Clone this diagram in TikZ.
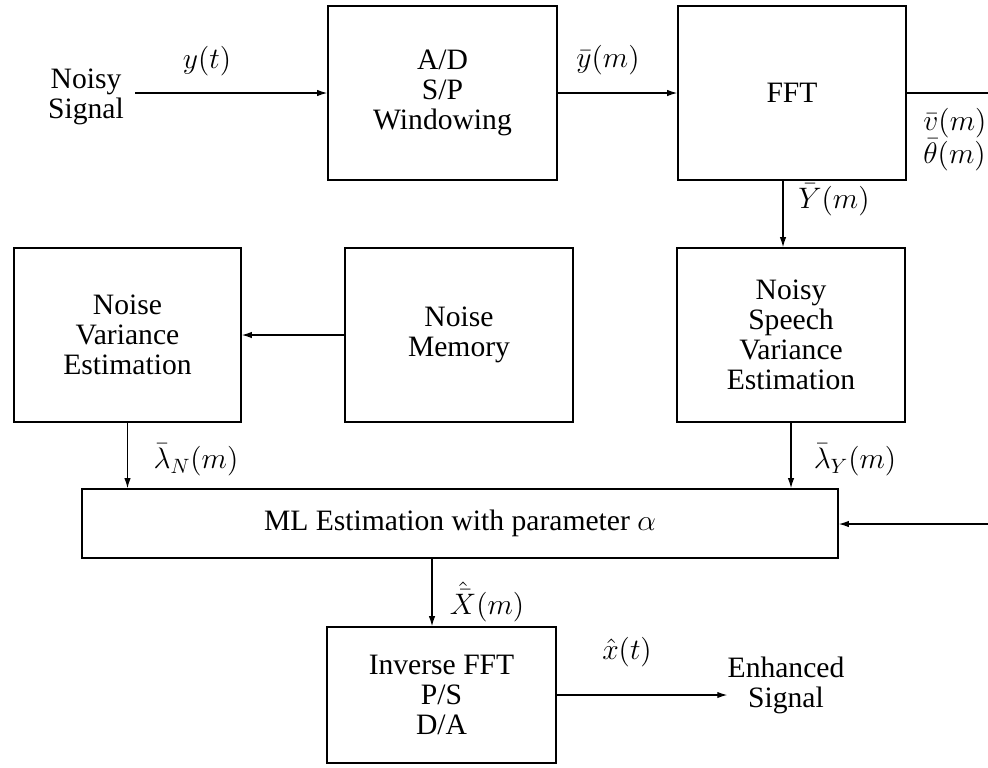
\documentclass[tikz,border=0pt]{standalone}
\usepackage{fix-cm}
\usepackage{fontspec}
\setmainfont{Liberation Serif}
\usetikzlibrary{arrows.meta,calc}

\begin{document}
\begin{tikzpicture}[x=0.5pt,y=-0.5pt,
  font=\fontsize{14.8}{15}\selectfont,
  blk/.style={draw,line width=0.8pt,align=center,inner sep=0pt},
  txt/.style={align=center,inner sep=0pt},
  lbl/.style={inner sep=0pt},
  arr/.style={line width=0.6pt,-{Latex[length=5pt,width=3.2pt]}},
  ln/.style={line width=0.6pt}]
\useasboundingbox (0,0) rectangle (988,767);

% top row
\node[txt] (nsig) at (86,97) {Noisy\\Signal};
\node[blk,minimum width=114.5pt,minimum height=87pt] (ad) at (442.5,93) {A/D\\S/P\\Windowing};
\node[blk,minimum width=114pt,minimum height=87pt] (fft) at (792,93) {FFT};
\coordinate (fftout) at (988,93);

% middle row
\node[blk,minimum width=113.5pt,minimum height=87pt] (nve) at (127.5,335) {Noise\\Variance\\Estimation};
\node[blk,minimum width=114pt,minimum height=87pt] (nm) at (459,335) {Noise\\Memory};
\node[blk,minimum width=114pt,minimum height=87pt] (nsve) at (791,335) {Noisy\\Speech\\Variance\\Estimation};

% estimator and output stage
\node[blk,minimum width=378pt,minimum height=34.5pt] (ml) at (460,523.5) {ML Estimation with parameter $\alpha$};
\coordinate (alphain) at (988,524);
\node[blk,minimum width=114.5pt,minimum height=68pt] (ifft) at (441.5,695) {Inverse FFT\\P/S\\D/A};
\node[txt] (esig) at (786,685) {Enhanced\\Signal};

% connectors
\draw[arr] ([xshift=5.5pt]nsig.east |- ad.west) -- (ad.west);
\draw[arr] (ad.east) -- (fft.west);
\draw[ln] (fft.east) -- (fftout);
\draw[arr] ([xshift=-4.5pt]fft.south) -- ([xshift=-4.5pt]fft.south |- nsve.north);
\draw[arr] (nm.west) -- (nm.west -| nve.east);
\draw[arr] (nve.south) -- (nve.south |- ml.north);
\draw[arr] (nsve.south) -- (nsve.south |- ml.north);
\draw[arr] (alphain) -- (alphain -| ml.east);
\draw[arr] ([xshift=-4.75pt]ifft.north |- ml.south) -- ([xshift=-4.75pt]ifft.north);
\draw[arr] (ifft.east) -- (ifft.east -| esig.west);

% signal labels
\node[lbl] (ly) at (207,61) {$y(t)$};
\node[lbl] (lyb) at (608,60) {$\bar{y}(m)$};
\node[lbl,anchor=west] (lv) at (923,123) {$\bar{v}(m)$};
\node[lbl,anchor=west] (lth) at (923,155) {$\bar{\theta}(m)$};
\node[lbl] (lY) at (834,200) {$\bar{Y}(m)$};
\node[lbl] (lN) at (196,460) {$\bar{\lambda}_N(m)$};
\node[lbl] (lLY) at (855,460) {$\bar{\lambda}_Y(m)$};
\node[lbl] (lX) at (487,602) {$\hat{\bar{X}}(m)$};
\node[lbl] (lx) at (627,652) {$\hat{x}(t)$};
\end{tikzpicture}
\end{document}
